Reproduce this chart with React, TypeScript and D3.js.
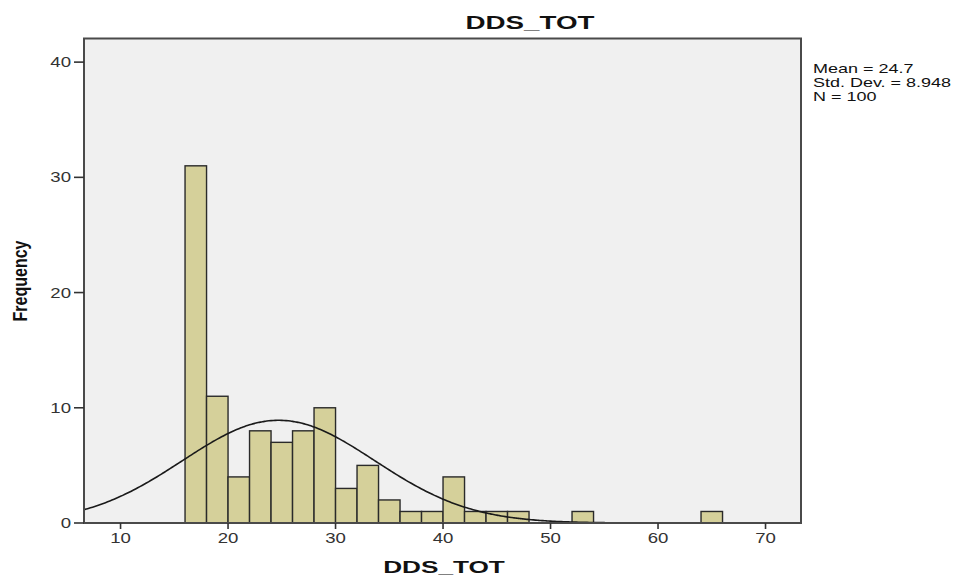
import React from "react";
import * as d3 from "d3";

// ---- data ----
const binStarts = [16, 18, 20, 22, 24, 26, 28, 30, 32, 34, 36, 38, 40, 42, 44, 46, 48, 50, 52, 54, 56, 58, 60, 62, 64];
const binCounts = [31, 11, 4, 8, 7, 8, 10, 3, 5, 2, 1, 1, 4, 1, 1, 1, 0, 0, 1, 0, 0, 0, 0, 0, 1];
const binWidth = 2;
const xTicks = [10, 20, 30, 40, 50, 60, 70];
const yTicks = [0, 10, 20, 30, 40];
const statLabels = ["Mean = 24.7", "Std. Dev. = 8.948", "N = 100"];
const mean = 24.7;
const stdDev = 8.948;
const nTotal = 100;
const title = "DDS_TOT";
const xTitle = "DDS_TOT";
const yTitle = "Frequency";

const FONT = "'Liberation Sans', Arial, Helvetica, sans-serif";

function SText(props: {
  x: number; y: number; sx?: number; size: number; weight?: string | number;
  anchor?: "start" | "middle" | "end"; fill?: string; rotate?: number; children: React.ReactNode;
}) {
  const { x, y, sx = 1.35, size, weight = "normal", anchor = "start", fill = "#222", rotate, children } = props;
  const tf = `translate(${x},${y}) scale(${sx},1)` + (rotate ? ` rotate(${rotate})` : "");
  return (
    <text transform={tf} fontFamily={FONT} fontSize={size} fontWeight={weight} textAnchor={anchor} fill={fill}>
      {children}
    </text>
  );
}

export default function App() {
  const left = 84, right = 801, top = 38.5, bottom = 523;
  const x = d3.scaleLinear().domain([6.6, 73.3]).range([left, right]);
  const y = d3.scaleLinear().domain([0, 42.05]).range([bottom, top]);

  const peak = (nTotal * binWidth) / (stdDev * Math.sqrt(2 * Math.PI));
  const curvePts: [number, number][] = d3.range(6.6, 73.3001, 0.2).map((v) => [
    v,
    peak * Math.exp(-0.5 * Math.pow((v - mean) / stdDev, 2)),
  ]);
  const line = d3.line<[number, number]>().x((d) => x(d[0])).y((d) => y(d[1])).curve(d3.curveBasis);

  return (
    <svg width={960} height={576} style={{ position: "absolute", left: 0, top: 0, background: "#fff" }}>
      <defs>
        <clipPath id="plotclip">
          <rect x={left} y={top} width={right - left} height={bottom - top} />
        </clipPath>
      </defs>
      <rect x={0} y={0} width={960} height={576} fill="#fff" />
      <rect x={left} y={top} width={right - left} height={bottom - top} fill="#f0f0f0" />

      {/* bars */}
      <g>
        {binStarts.map((s, i) =>
          binCounts[i] > 0 ? (
            <rect
              key={i}
              x={x(s)}
              y={y(binCounts[i])}
              width={x(s + binWidth) - x(s)}
              height={y(0) - y(binCounts[i])}
              fill="#d5d09a"
              stroke="#2a2a2a"
              strokeWidth={1.4}
            />
          ) : null
        )}
      </g>

      {/* normal curve */}
      <path d={line(curvePts) || ""} fill="none" stroke="#1a1a1a" strokeWidth={1.6} clipPath="url(#plotclip)" />

      {/* frame */}
      <rect x={left} y={top} width={right - left} height={bottom - top} fill="none" stroke="#4a4a4a" strokeWidth={2} />

      {/* y axis ticks */}
      {yTicks.map((t) => (
        <g key={"y" + t}>
          <line x1={left - 10} x2={left} y1={y(t)} y2={y(t)} stroke="#333" strokeWidth={1.6} />
          <SText x={71} y={y(t) + 5} size={14} sx={1.33} anchor="end" fill="#333">{t}</SText>
        </g>
      ))}

      {/* x axis ticks */}
      {xTicks.map((t) => (
        <g key={"x" + t}>
          <line x1={x(t)} x2={x(t)} y1={bottom} y2={bottom + 6} stroke="#333" strokeWidth={1.6} />
          <SText x={x(t)} y={543} size={14} sx={1.33} anchor="middle" fill="#333">{t}</SText>
        </g>
      ))}

      {/* titles */}
      <SText x={530} y={29} size={18} sx={1.54} weight="bold" anchor="middle" fill="#111">{title}</SText>
      <SText x={444} y={573} size={17} sx={1.54} weight="bold" anchor="middle" fill="#111">{xTitle}</SText>
      <SText x={27} y={281} size={16} sx={1.3} weight="bold" anchor="middle" rotate={-90} fill="#111">{yTitle}</SText>

      {/* stats legend */}
      {statLabels.map((s, i) => (
        <SText key={s} x={813} y={73 + i * 13.8} size={12} sx={1.5} fill="#111">{s}</SText>
      ))}
    </svg>
  );
}
